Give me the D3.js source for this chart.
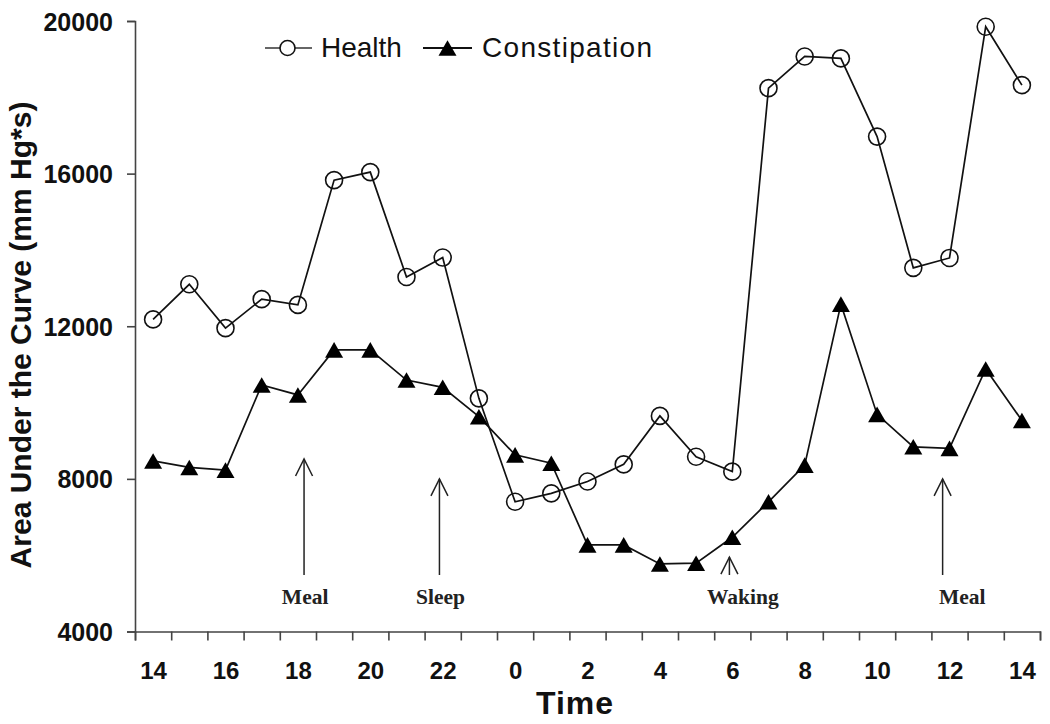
<!DOCTYPE html>
<html>
<head>
<meta charset="utf-8">
<script src="https://cdn.jsdelivr.net/npm/d3@7"></script>
<style>
  html, body { margin: 0; padding: 0; background: #fff; }
  svg { display: block; }
</style>
</head>
<body>
<svg id="chart" width="1050" height="724"></svg>
<script>
// ---- data ----
const hours = [14,15,16,17,18,19,20,21,22,23,0,1,2,3,4,5,6,7,8,9,10,11,12,13,14];
const health = [12180,13100,11950,12710,12560,15830,16040,13290,13800,10110,7400,7620,7930,8380,9650,8580,8190,18240,19070,19020,16970,13530,13790,19850,18320];
const constipation = [8470,8300,8230,10460,10200,11380,11380,10590,10400,9630,8630,8410,6270,6270,5770,5790,6470,7400,8360,12580,9690,8840,8800,10880,9530];
const yTicks = [4000,8000,12000,16000,20000];
const xLabelIdx = [0,2,4,6,8,10,12,14,16,18,20,22,24];
const seriesNames = ["Health","Constipation"];
// annotations: label, arrow x (hour-slot index), arrow tip value, label x (slot index)
const annoLabels = ["Meal","Sleep","Waking","Meal"];
const annoArrowX = [4.17,7.91,15.92,21.81];
const annoArrowTop = [8520,8000,5950,8000];
const annoLabelX = [4.2,7.94,16.29,22.35];

// ---- layout ----
const svg = d3.select("#chart");
const L = 135, R = 1040, T = 21, B = 631.5;
const x = d3.scaleLinear().domain([-0.5, hours.length - 0.5]).range([L, R]);
const y = d3.scaleLinear().domain([4000, 20000]).range([B, T]);
const sans = "Arial, 'Liberation Sans', Helvetica, sans-serif";
const serif = "'Times New Roman', 'Liberation Serif', serif";
const axisColor = "#444";

// y axis
const yAxis = svg.append("g").attr("transform", `translate(${L},0)`)
  .call(d3.axisLeft(y).tickValues(yTicks).tickSize(8).tickPadding(14).tickFormat(d3.format("d")));
yAxis.selectAll("path, line").attr("stroke", axisColor).attr("stroke-width", 1.6);
yAxis.selectAll("text").attr("font-family", sans).attr("font-weight", "bold")
  .attr("font-size", 25).attr("fill", "#111").attr("dy", "0.36em");

// x axis ticks (at slot boundaries)
const boundaries = d3.range(hours.length + 1).map(i => i - 0.5);
const xAxis = svg.append("g").attr("transform", `translate(0,${B})`)
  .call(d3.axisBottom(x).tickValues(boundaries).tickSize(9).tickFormat(""));
xAxis.selectAll("path, line").attr("stroke", axisColor).attr("stroke-width", 1.6);

// x labels
const xLab = svg.append("g").attr("transform", `translate(0,${B})`)
  .call(d3.axisBottom(x).tickValues(xLabelIdx).tickSize(0).tickPadding(0).tickFormat(i => hours[i]));
xLab.select("path").remove();
xLab.selectAll("text").attr("font-family", sans).attr("font-weight", "bold")
  .attr("font-size", 24).attr("fill", "#111").attr("dy", null).attr("y", 47.5);

// axis titles
svg.append("text").attr("x", 575).attr("y", 714).attr("text-anchor", "middle")
  .attr("font-family", sans).attr("font-weight", "bold").attr("font-size", 32).attr("fill", "#111")
  .attr("letter-spacing", 1)
  .text("Time");
svg.append("text").attr("transform", "translate(31,335) rotate(-90)").attr("text-anchor", "middle")
  .attr("font-family", sans).attr("font-weight", "bold").attr("font-size", 30).attr("fill", "#111")
  .text("Area Under the Curve (mm Hg*s)");

// annotations
const anno = svg.append("g").attr("stroke", "#222").attr("stroke-width", 1.5).attr("fill", "none");
annoLabels.forEach((lab, i) => {
  const ax = x(annoArrowX[i]), top = y(annoArrowTop[i]);
  anno.append("line").attr("x1", ax).attr("x2", ax).attr("y1", 575).attr("y2", top);
  anno.append("path").attr("d", `M${ax-8.5},${top+17}L${ax},${top}L${ax+8.5},${top+17}`);
  svg.append("text").attr("x", x(annoLabelX[i])).attr("y", 604).attr("text-anchor", "middle")
    .attr("font-family", serif).attr("font-weight", "bold").attr("font-size", 21.5).attr("fill", "#222")
    .text(lab);
});

// lines
const line = d3.line().x((d, i) => x(i)).y(d => y(d));
svg.append("path").datum(health).attr("d", line).attr("fill", "none").attr("stroke", "#111").attr("stroke-width", 1.7);
svg.append("path").datum(constipation).attr("d", line).attr("fill", "none").attr("stroke", "#111").attr("stroke-width", 1.7);

// markers
const triPath = (cx, cy, s) => {
  const h = s * Math.sqrt(3) / 2;
  return `M${cx},${cy - h/2}L${cx + s/2},${cy + h/2}L${cx - s/2},${cy + h/2}Z`;
};
svg.append("g").selectAll("circle").data(health).join("circle")
  .attr("cx", (d, i) => x(i)).attr("cy", d => y(d)).attr("r", 8.5)
  .attr("fill", "none").attr("stroke", "#111").attr("stroke-width", 1.6);
svg.append("g").selectAll("path").data(constipation).join("path")
  .attr("d", (d, i) => triPath(x(i), y(d), 18)).attr("fill", "#000");

// legend
const lg = svg.append("g");
lg.append("line").attr("x1", 265).attr("x2", 312).attr("y1", 48).attr("y2", 48).attr("stroke", "#333").attr("stroke-width", 1.6);
lg.append("circle").attr("cx", 287.5).attr("cy", 48).attr("r", 7.5).attr("fill", "#fff").attr("stroke", "#111").attr("stroke-width", 1.6);
lg.append("text").attr("x", 321).attr("y", 57).attr("font-family", sans).attr("font-size", 28).attr("fill", "#111").text(seriesNames[0]);
lg.append("line").attr("x1", 423).attr("x2", 472).attr("y1", 48).attr("y2", 48).attr("stroke", "#111").attr("stroke-width", 1.8);
lg.append("path").attr("d", triPath(447.5, 48, 18)).attr("fill", "#000");
lg.append("text").attr("x", 482).attr("y", 57).attr("font-family", sans).attr("font-size", 28)
  .attr("letter-spacing", 1.3).attr("fill", "#111").text(seriesNames[1]);
</script>
</body>
</html>
